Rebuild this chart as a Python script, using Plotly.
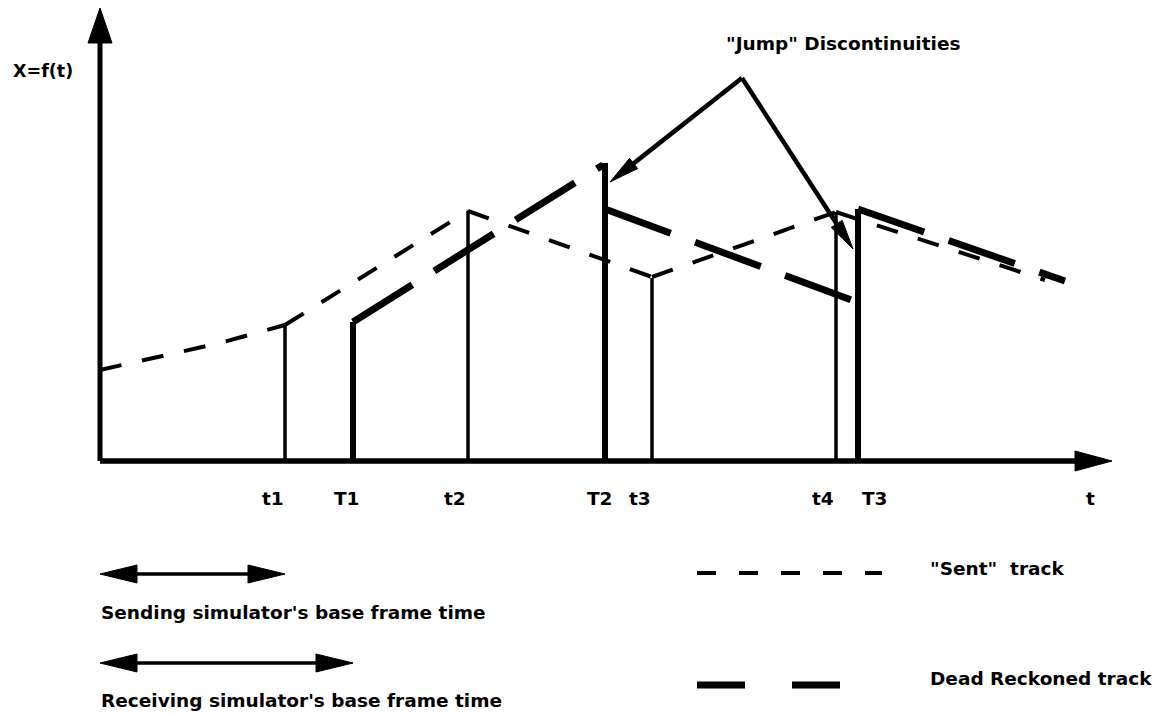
import numpy as np
import plotly.graph_objects as go

# ---------------- data (time units along t, value units along X) ----------------
# "Sent" track (thin dashed), one list per continuous piece
sent_seg_t = [[0, 60, 120, 185], [185, 368], [368, 552], [552, 736], [736, 945]]
sent_seg_x = [[91, 104, 118, 136], [136, 250], [250, 184], [184, 249], [249, 181]]

# Dead Reckoned track (thick long dashes)
dr_seg_t = [[253, 503], [505, 757], [758, 965]]
dr_seg_x = [[139, 296], [252, 159], [252, 180]]

# sample instants (vertical markers)
sample_t = [185, 253, 368, 505, 552, 736, 758]
sample_top = [136, 139, 250, 298, 183, 249, 252]
sample_kind = ["send", "recv", "send", "recv", "send", "send", "recv"]
tick_labels = ["t1", "T1", "t2", "T2", "t3", "t4", "T3"]
tick_label_t = [173, 247, 355, 500, 540, 723, 775]

# axis extents
t_axis_end = 1012
x_axis_end = 453

# "Jump" discontinuity pointers
jump_peak = (642, 383)
jump_tips = [(510, 279), (753, 212)]

# base frame times (legend arrows)
send_frame = [0, 185]
recv_frame = [0, 253]

# ---------------- helpers ----------------
def head(tip, tail, L, W):
    tip = np.array(tip, float)
    d = tip - np.array(tail, float)
    d /= np.linalg.norm(d)
    n = np.array([-d[1], d[0]])
    base = tip - d * L
    p1 = base + n * W / 2
    p2 = base - n * W / 2
    return [tip[0], p1[0], p2[0], tip[0]], [tip[1], p1[1], p2[1], tip[1]]

def shorten(tip, tail, s):
    tip = np.array(tip, float)
    d = tip - np.array(tail, float)
    d /= np.linalg.norm(d)
    p = tip - d * s
    return p[0], p[1]

fig = go.Figure()

def line(xs, ys, w, dash="solid"):
    fig.add_trace(go.Scatter(x=xs, y=ys, mode="lines",
                             line=dict(color="black", width=w, dash=dash),
                             hoverinfo="skip", showlegend=False))

def poly(xs, ys):
    fig.add_trace(go.Scatter(x=xs, y=ys, mode="lines", fill="toself",
                             fillcolor="black", line=dict(color="black", width=1),
                             hoverinfo="skip", showlegend=False))

# axes
line([0, 0], [0, x_axis_end - 30], 5)
poly(*head((0, x_axis_end), (0, 0), 35, 24))
line([0, t_axis_end - 30], [0, 0], 5.5)
poly(*head((t_axis_end, 0), (0, 0), 37, 20))

# vertical sample markers
for t, top, k in zip(sample_t, sample_top, sample_kind):
    line([t, t], [0, top], 3.5 if k == "send" else 6)

# sent track
for ts, xs in zip(sent_seg_t, sent_seg_x):
    line(ts, xs, 4, "22px,21px")

# dead reckoned track
for ts, xs in zip(dr_seg_t, dr_seg_x):
    line(ts, xs, 7, "70px,26px")

# jump pointers
for tip in jump_tips:
    sx, sy = shorten(tip, jump_peak, 20)
    line([sx, jump_peak[0], ], [sy, jump_peak[1]], 4.5)
    poly(*head(tip, jump_peak, 30, 13))

# legend: frame-time double arrows
for fr, y in [(send_frame, -113), (recv_frame, -202)]:
    line([fr[0] + 30, fr[1] - 30], [y, y], 3.5)
    poly(*head((fr[0], y), (fr[1], y), 37, 18))
    poly(*head((fr[1], y), (fr[0], y), 37, 18))

# legend: line samples
line([597, 782], [-112, -112], 4, "19px,23px")
line([597, 742], [-224, -224], 7, "48px,47px")

font = dict(family="DejaVu Sans", size=18.5, color="black", weight="bold")

def txt(x, y, s, anchor="left", size=18.5):
    f = dict(font)
    f["size"] = size
    fig.add_annotation(x=x, y=y, text=s, showarrow=False, xanchor=anchor,
                       yanchor="middle", font=f)

txt(-89, 390, "X=f(t)", size=17.5)
txt(624, 418, "\"Jump\" Discontinuities")
for lt, lab in zip(tick_label_t, tick_labels):
    txt(lt, -37, lab, "center")
txt(990, -37, "t", "center")
txt(-1, -151, "Sending simulator's base frame time")
txt(-1, -239, "Receiving simulator's base frame time")
txt(828, -107, "\"Sent\"  track")
txt(828, -217, "Dead Reckoned track")

fig.update_layout(
    width=1165, height=714,
    margin=dict(l=0, r=0, t=0, b=0),
    paper_bgcolor="white", plot_bgcolor="white",
    xaxis=dict(range=[-100, 1065], visible=False, fixedrange=True),
    yaxis=dict(range=[-253, 461], visible=False, fixedrange=True),
    showlegend=False,
)

fig.write_html("out.html", config={"displayModeBar": False},
               post_script="document.body.style.margin='0';")
